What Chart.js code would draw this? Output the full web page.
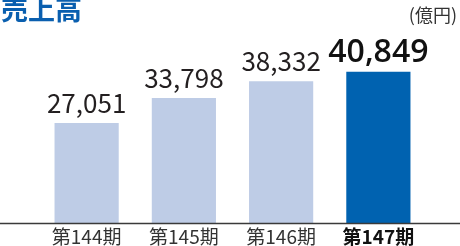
<!DOCTYPE html>
<html><head><meta charset="utf-8">
<script src="https://cdn.jsdelivr.net/npm/chart.js@4/dist/chart.umd.min.js"></script>
<style>html,body{margin:0;padding:0;background:#fff}#wrap{width:460px;height:246px;position:relative}</style>
</head><body><div id="wrap"><canvas id="c" width="460" height="246"></canvas></div>
<script>
const categories = ['第144期', '第145期', '第146期', '第147期'];
const sales = [27051, 33798, 38332, 40849];
const valueLabels = ['27,051', '33,798', '38,332', '40,849'];
const title = '売上高';
const unit = '(億円)';

const highlight = 3;
const barColors = sales.map((v, i) => i === highlight ? '#0062B0' : '#BECCE6');

const deco = {
  id: 'deco',
  afterDatasetsDraw(chart) {
    const ctx = chart.ctx;
    const xs = chart.scales.x;
    const area = chart.chartArea;
    ctx.save();
    ctx.strokeStyle = '#3a3a3a';
    ctx.lineWidth = 1.5;
    ctx.beginPath();
    ctx.moveTo(0, area.bottom + 0.5);
    ctx.lineTo(chart.width, area.bottom + 0.5);
    ctx.stroke();
    const meta = chart.getDatasetMeta(0);
    meta.data.forEach((bar, i) => {
      ctx.textAlign = 'center';
      ctx.textBaseline = 'alphabetic';
      if (i === highlight) {
        ctx.font = '600 32px "Open Sans", "Liberation Sans", sans-serif';
        ctx.fillStyle = '#111';
      } else {
        ctx.font = '26px "Noto Sans CJK JP", "Liberation Sans", sans-serif';
        ctx.fillStyle = '#231F20';
      }
      ctx.fillText(valueLabels[i], bar.x, bar.y - 10);
    });
    categories.forEach((c, i) => {
      const x = xs.getPixelForValue(i);
      ctx.textAlign = 'center';
      ctx.textBaseline = 'middle';
      if (i === highlight) {
        ctx.font = 'bold 19px "Noto Sans CJK JP", sans-serif';
        ctx.fillStyle = '#111';
      } else {
        ctx.font = '19px "Noto Sans CJK JP", sans-serif';
        ctx.fillStyle = '#333';
      }
      ctx.fillText(c, x, area.bottom + 14);
    });
    ctx.textAlign = 'left';
    ctx.textBaseline = 'top';
    ctx.font = 'bold 27px "Noto Sans CJK JP", sans-serif';
    ctx.fillStyle = '#0A5FAF';
    ctx.fillText(title, 1, -4);
    ctx.textAlign = 'right';
    ctx.font = '18px "Noto Sans CJK JP", sans-serif';
    ctx.fillStyle = '#333';
    ctx.fillText(unit, 457, 6);
    ctx.restore();
  }
};

new Chart(document.getElementById('c'), {
  type: 'bar',
  data: {
    labels: categories,
    datasets: [{ data: sales, backgroundColor: barColors, borderWidth: 0,
      barPercentage: 0.66, categoryPercentage: 1.0 }]
  },
  options: {
    responsive: false,
    animation: false,
    layout: { padding: { top: 38, bottom: 23, left: 38, right: 33 } },
    plugins: { legend: { display: false }, tooltip: { enabled: false }, title: { display: false } },
    scales: {
      x: { display: true, grid: { display: false, drawTicks: false }, border: { display: false }, ticks: { display: false } },
      y: { display: false, min: 0, max: 50000 }
    }
  },
  plugins: [deco]
});
</script>
</body></html>
